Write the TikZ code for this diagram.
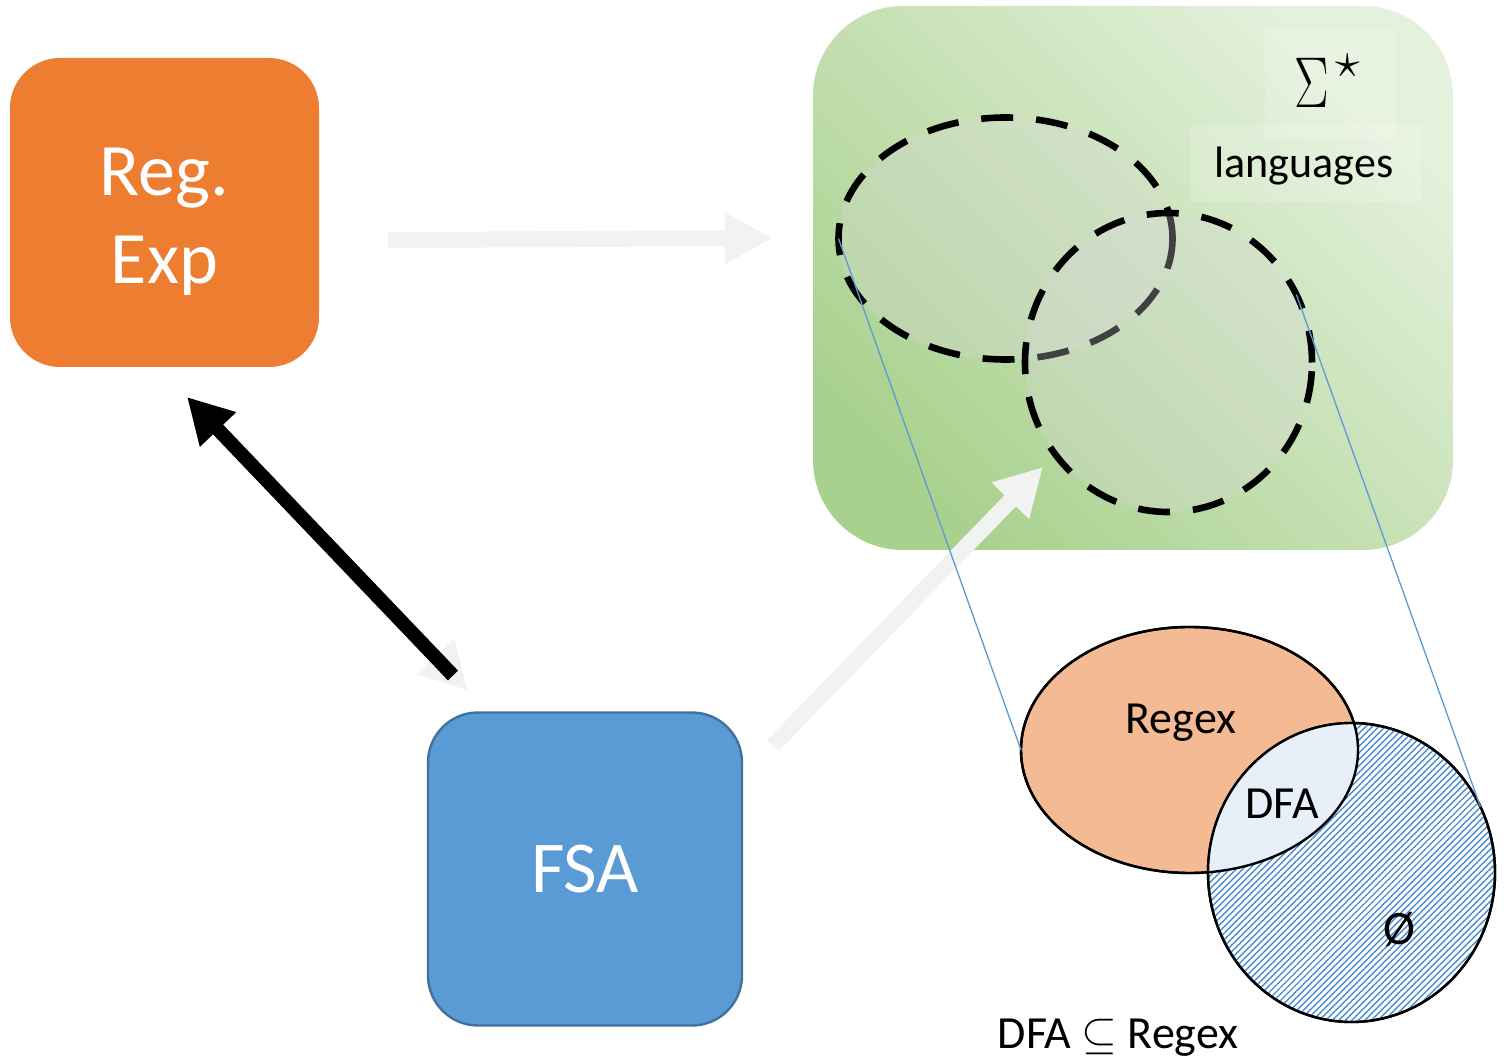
\RequirePackage{fix-cm}
\documentclass[tikz,border=0pt]{standalone}
\usepackage{fontspec}
\setmainfont{Carlito}
\usetikzlibrary{arrows.meta,shapes.geometric,patterns.meta}
\definecolor{oran}{HTML}{ED7D31}
\definecolor{blu}{HTML}{5B9BD5}
\definecolor{bluedge}{HTML}{41719C}
\definecolor{gdark}{HTML}{A9D18E}
\definecolor{glight}{HTML}{E4F1DC}
\definecolor{arrgray}{HTML}{F2F2F2}
\definecolor{venor}{HTML}{F4BA93}
\definecolor{venbl}{HTML}{E7EFF8}
\definecolor{hatchbl}{HTML}{4A8BD0}
\definecolor{zoomln}{HTML}{5B9BD5}
\begin{document}
\begin{tikzpicture}[x=0.5pt,y=-0.5pt,
  box/.style={rounded corners=25pt, inner sep=0pt, outer sep=0pt, text=white, align=center},
  fatgray/.style={draw=arrgray, line width=8pt, -{Triangle[length=24pt,width=24pt]}},
  fatblack/.style={draw=black, line width=7pt, -{Triangle[length=22.5pt,width=23.5pt]}},
  langset/.style={ellipse, inner sep=0pt, outer sep=0pt, draw=black, line width=3.3pt,
    dash pattern=on 16pt off 11.5pt, fill=gray!30!white, fill opacity=0.3, draw opacity=1},
  venn/.style={ellipse, inner sep=0pt, outer sep=0pt},
  zoomline/.style={draw=zoomln, line width=0.65pt},
  lbl/.style={inner sep=0pt, anchor=base}
]
\useasboundingbox (0,0) rectangle (1504,1058);

% boxes
\node[box, fill=oran, minimum width=154.5pt, minimum height=154.5pt,
      font=\fontsize{37}{44}\selectfont] (re) at (164.5,212.5)
      {\raisebox{-4.5pt}[\height][\depth]{\begin{tabular}{@{}c@{}}Reg.\\Exp\end{tabular}}};
\node[box, fill=blu, draw=bluedge, line width=1.2pt, minimum width=157pt, minimum height=156.5pt,
      font=\fontsize{36.5}{44}\selectfont] (fsa) at (585,869) {FSA};
\node[rounded corners=45pt, inner sep=0pt, outer sep=0pt, minimum width=320pt, minimum height=272pt,
      top color=glight, bottom color=gdark, shading angle=-45] (lang) at (1133,278) {};

% faint text backgrounds
\fill[white, opacity=0.18] (1265,28) rectangle (1395,138);
\fill[white, opacity=0.18] (1190,125) rectangle (1422,202);

% language sets
\node[langset, minimum width=167pt, minimum height=121pt] (e1) at (1005.5,238.5) {};
\node[langset, minimum width=143.5pt, minimum height=149.5pt] (e2) at (1168.5,362.5) {};

\node[lbl] (sig) at (1327,108) {\fontsize{36}{36}\selectfont\scalebox{0.72}[1]{$\Sigma$}\hspace{3pt}\raisebox{15pt}{\fontsize{25}{25}\selectfont$\star$}};
\node[lbl] (lg) at (1304,178) {\fontsize{22}{26}\selectfont languages};

% arrows
\draw[fatgray] ([shift={(69,27.5)}]re.east) -- ([shift={(-40,-40)}]lang.west);
\draw[draw=arrgray, line width=6pt, -{Triangle[length=23.5pt,width=24pt]}]
   ([shift={(135.5,147.5)}]re.south) -- ([shift={(40,-22)}]fsa.north west);
\draw[fatblack] ([shift={(25,-37)}]fsa.north west) -- ([shift={(22.5,30)}]re.south);
\draw[draw=arrgray, line width=8pt, -{Triangle[length=23.5pt,width=24.5pt]}]
   ([shift={(31,33)}]fsa.north east) -- ([shift={(-90,-83)}]lang.south);

% Venn diagram
\node[venn, fill=venor, draw=black, line width=1.2pt, minimum width=168.5pt, minimum height=123pt] (rg) at (1189.5,750) {};
\node[venn, fill=white, postaction={pattern={Lines[angle=45,distance=2.3pt,line width=0.7pt]}, pattern color=hatchbl},
      draw=black, line width=1.2pt, minimum width=143.5pt, minimum height=149.5pt] (hc) at (1351.5,872.5) {};
\begin{scope}
  \clip (1189.5,750) ellipse [x radius=168.5, y radius=123];
  \fill[venbl] (1351.5,872.5) ellipse [x radius=143.5, y radius=149.5];
\end{scope}
\draw[line width=1.2pt] (1189.5,750) ellipse [x radius=168.5, y radius=123];
\draw[line width=1.2pt] (1351.5,872.5) ellipse [x radius=143.5, y radius=149.5];

\node[lbl] (rgl) at (1181,733) {\fontsize{23}{27}\selectfont Regex};
\node[lbl] (dfl) at (1282,818) {\fontsize{23}{27}\selectfont DFA};
\node (emp) at (1399,930) {\fontsize{24}{28}\selectfont Ø};
\node[lbl] (cap) at (1118,1048) {\fontsize{23}{27}\selectfont DFA $\subseteq$ Regex};

% zoom lines
\draw[zoomline] (e1.west) -- (rg.west);
\draw[zoomline] (e2.28) -- (hc.27);
\end{tikzpicture}
\end{document}
